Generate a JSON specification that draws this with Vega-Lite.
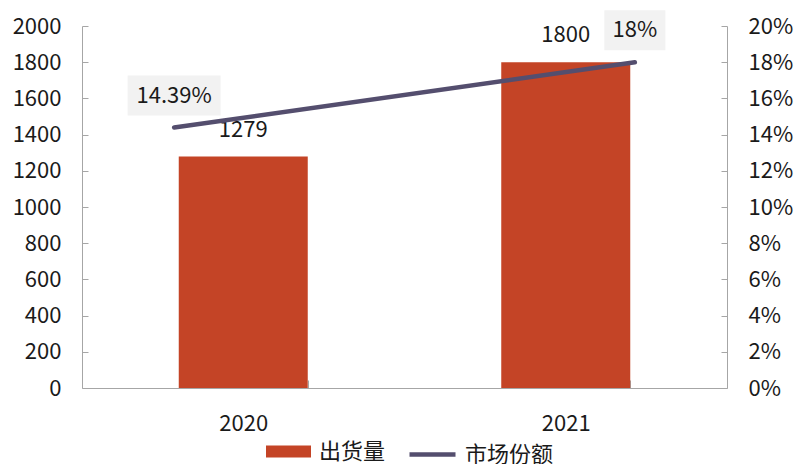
{
  "$schema": "https://vega.github.io/schema/vega-lite/v6.json",
  "width": 645,
  "height": 362,
  "autosize": {"type": "none"},
  "padding": {"left": 82, "top": 26, "right": 70, "bottom": 76},
  "background": "white",
  "config": {
    "view": {"stroke": null},
    "font": "Noto Sans CJK SC",
    "axis": {
      "domainColor": "#A6A6A6",
      "tickColor": "#A6A6A6",
      "labelColor": "#1a1a1a",
      "labelFont": "Noto Sans CJK SC",
      "labelFontSize": 22,
      "labelOverlap": false,
      "grid": false,
      "title": null
    },
    "legend": {"labelFont": "Noto Sans CJK SC", "labelFontSize": 22, "labelColor": "#1a1a1a"}
  },
  "data": {
    "values": [
      {"year": "2020", "shipment": 1279, "share": 0.1439},
      {"year": "2021", "shipment": 1800, "share": 0.18}
    ]
  },
  "layer": [
    {
      "encoding": {
        "x": {
          "field": "year", "type": "ordinal",
          "scale": {"paddingInner": 0.6, "paddingOuter": 0.3},
          "axis": {"labelAngle": 0, "tickBand": "extent", "tickSize": -8, "labelPadding": 43, "labelBaseline": "middle"}
        },
        "y": {
          "field": "shipment", "type": "quantitative",
          "scale": {"domain": [0, 2000], "nice": false},
          "axis": {"values": [0, 200, 400, 600, 800, 1000, 1200, 1400, 1600, 1800, 2000], "format": "d", "tickSize": -6, "labelPadding": 27, "labelOverlap": false, "labelBound": false, "labelFlush": false}
        }
      },
      "layer": [
        {
          "mark": {"type": "bar"},
          "encoding": {
            "fill": {
              "datum": "出货量", "type": "nominal",
              "scale": {"range": ["#C44426"]},
              "legend": {
                "orient": "none", "legendX": 184, "legendY": 403, "title": null, "padding": 0,
                "symbolType": "M-1,-0.267L1,-0.267L1,0.267L-1,0.267Z", "symbolSize": 2025,
                "symbolStrokeWidth": 0, "labelOffset": 8
              }
            }
          }
        },
        {
          "mark": {"type": "text", "dy": -27, "fontSize": 22, "baseline": "middle", "color": "#1a1a1a"},
          "encoding": {
            "text": {"field": "shipment", "type": "quantitative", "format": "d"}
          }
        }
      ]
    },
    {
      "encoding": {
        "x": {"field": "year", "type": "ordinal", "scale": {"type": "point", "padding": 0.2}, "axis": null},
        "y": {
          "field": "share", "type": "quantitative",
          "scale": {"domain": [0, 0.2], "nice": false},
          "axis": {"orient": "right", "format": ".0%", "values": [0, 0.02, 0.04, 0.06, 0.08, 0.1, 0.12, 0.14, 0.16, 0.18, 0.2], "tickSize": -6, "labelPadding": 27, "labelOverlap": false, "labelBound": false, "labelFlush": false}
        }
      },
      "layer": [
        {
          "mark": {"type": "line", "strokeWidth": 4.5, "strokeCap": "round"},
          "encoding": {
            "stroke": {
              "datum": "市场份额", "type": "nominal",
              "scale": {"range": ["#544E6E"]},
              "legend": {
                "orient": "none", "legendX": 325, "legendY": 403, "title": null, "padding": 0,
                "symbolType": "stroke", "symbolSize": 2116, "symbolStrokeWidth": 4.5, "labelOffset": 7
              }
            }
          }
        },
        {
          "mark": {"type": "point", "filled": true, "color": "#F2F2F2", "opacity": 1, "size": 1600, "yOffset": -32},
          "encoding": {
            "shape": {
              "field": "year", "type": "nominal",
              "scale": {"domain": ["2020", "2021"], "range": ["M-2.325,-1L2.325,-1L2.325,1L-2.325,1Z", "M-1.525,-1L1.525,-1L1.525,1L-1.525,1Z"]},
              "legend": null
            }
          }
        },
        {
          "mark": {"type": "text", "dy": -32, "fontSize": 22, "baseline": "middle", "color": "#1a1a1a"},
          "encoding": {
            "text": {"field": "share", "type": "quantitative", "format": ".2~%"}
          }
        }
      ]
    }
  ],
  "resolve": {"scale": {"x": "independent", "y": "independent"}}
}
